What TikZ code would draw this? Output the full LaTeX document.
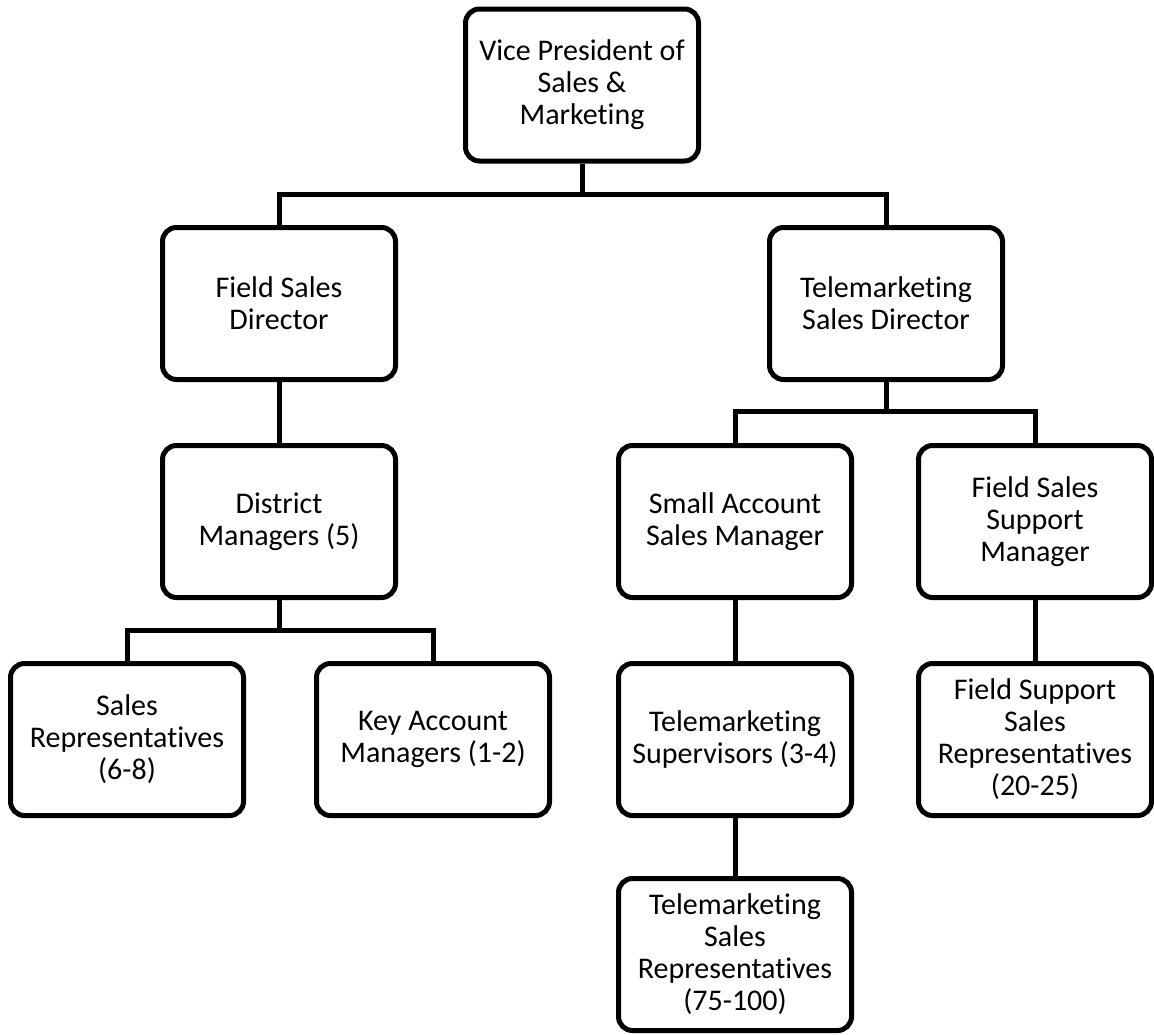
\documentclass[tikz,border=0pt]{standalone}
\usepackage{fontspec}
\setmainfont{Carlito}[Ligatures={NoCommon}]
\begin{document}
\begin{tikzpicture}[x=0.5pt,y=-0.5pt,
  box/.style={draw=black, line width=2.5pt, rounded corners=7pt, fill=white,
    minimum width=116.5pt, minimum height=76pt, align=center,
    font=\fontsize{15}{16}\selectfont, inner sep=1pt},
  conn/.style={draw=black, line width=2.5pt, line join=miter}]
\useasboundingbox (0,0) rectangle (1154,1034);
\node[box] (vp)   at (582,85)    {Vice President of\\Sales \&\\Marketing};
\node[box] (fsd)  at (279,303.5) {Field Sales\\Director};
\node[box] (tsd)  at (886,303.5) {Telemarketing\\Sales Director};
\node[box] (dm)   at (279,521.5) {District\\Managers (5)};
\node[box] (sasm) at (735,521.5) {Small Account\\Sales Manager};
\node[box] (fssm) at (1035,521.5) {Field Sales\\Support\\Manager};
\node[box] (sr)   at (127,739.5) {Sales\\Representatives\\(6-8)};
\node[box] (kam)  at (433,739.5) {Key Account\\Managers (1-2)};
\node[box] (ts)   at (735,739.5) {Telemarketing\\Supervisors (3-4)};
\node[box] (fssr) at (1035,739.5) {Field Support\\Sales\\Representatives\\(20-25)};
\node[box] (tsr)  at (735,954.5) {Telemarketing\\Sales\\Representatives\\(75-100)};
\coordinate (b1) at (582,194);
\coordinate (b2) at (886,411);
\coordinate (b3) at (279,630);
\draw[conn] (vp.south) -- (b1);
\draw[conn] (fsd.north) |- (b1) -| (tsd.north);
\draw[conn] (fsd.south) -- (dm.north);
\draw[conn] (tsd.south) -- (b2);
\draw[conn] (sasm.north) |- (b2) -| (fssm.north);
\draw[conn] (dm.south) -- (b3);
\draw[conn] (sr.north) |- (b3) -| (kam.north);
\draw[conn] (sasm.south) -- (ts.north);
\draw[conn] (ts.south) -- (tsr.north);
\draw[conn] (fssm.south) -- (fssr.north);
\end{tikzpicture}
\end{document}
